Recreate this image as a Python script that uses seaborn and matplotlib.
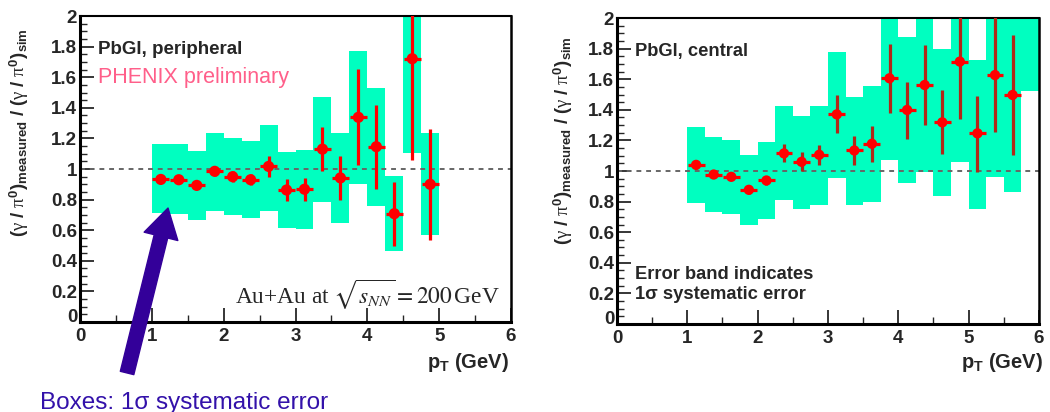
import numpy as np
import pandas as pd
import matplotlib
matplotlib.use('Agg')
import matplotlib.pyplot as plt
from matplotlib.ticker import MultipleLocator
from matplotlib.transforms import ScaledTranslation
import seaborn as sns

# --- PbGl peripheral (left panel) ---
peri_pt = [1.125, 1.375, 1.625, 1.875, 2.125, 2.375, 2.625, 2.875,
           3.125, 3.375, 3.625, 3.875, 4.125, 4.375, 4.625, 4.875]
peri_ratio = [0.932, 0.930, 0.893, 0.985, 0.950, 0.930, 1.017, 0.863,
              0.868, 1.130, 0.942, 1.338, 1.146, 0.708, 1.721, 0.900]
peri_err_lo = [0.915, 0.915, 0.875, 0.955, 0.915, 0.895, 0.947, 0.793,
               0.792, 0.988, 0.797, 1.026, 0.867, 0.499, 1.059, 0.538]
peri_err_hi = [0.950, 0.945, 0.910, 1.015, 0.985, 0.965, 1.087, 0.933,
               0.942, 1.276, 1.088, 1.654, 1.416, 0.913, 2.300, 1.263]
peri_box_lo = [0.712, 0.708, 0.669, 0.725, 0.697, 0.678, 0.725, 0.614,
               0.611, 0.785, 0.648, 0.900, 0.760, 0.466, 1.105, 0.567]
peri_box_hi = [1.161, 1.166, 1.118, 1.235, 1.203, 1.183, 1.290, 1.111,
               1.125, 1.473, 1.238, 1.773, 1.527, 0.952, 2.300, 1.233]

# --- PbGl central (right panel) ---
cent_pt = [1.125, 1.375, 1.625, 1.875, 2.125, 2.375, 2.625, 2.875, 3.125, 3.375,
           3.625, 3.875, 4.125, 4.375, 4.625, 4.875, 5.125, 5.375, 5.625]
cent_ratio = [1.040, 0.977, 0.962, 0.877, 0.938, 1.115, 1.060, 1.106, 1.370, 1.134,
              1.178, 1.606, 1.399, 1.562, 1.318, 1.715, 1.246, 1.627, 1.497]
cent_err_lo = [1.010, 0.960, 0.945, 0.850, 0.910, 1.058, 0.997, 1.036, 1.248, 1.036,
               1.058, 1.381, 1.207, 1.300, 1.111, 1.338, 0.996, 1.257, 1.105]
cent_err_hi = [1.070, 0.995, 0.980, 0.905, 0.966, 1.178, 1.121, 1.171, 1.494, 1.230,
               1.296, 1.828, 1.584, 1.824, 1.529, 2.300, 1.490, 2.300, 1.889]
cent_box_pt = [1.125, 1.375, 1.625, 1.875, 2.125, 2.375, 2.625, 2.875, 3.125, 3.375,
               3.625, 3.875, 4.125, 4.375, 4.625, 4.875, 5.125, 5.375, 5.625, 5.875]
cent_box_lo = [0.790, 0.731, 0.720, 0.646, 0.685, 0.811, 0.752, 0.781, 0.957, 0.779,
               0.796, 1.070, 0.920, 0.996, 0.837, 1.061, 0.752, 0.963, 0.865, 1.523]
cent_box_hi = [1.289, 1.219, 1.204, 1.106, 1.191, 1.422, 1.357, 1.424, 1.778, 1.483,
               1.553, 2.300, 1.874, 2.300, 1.800, 2.300, 1.725, 2.300, 2.300, 2.300]

y_tick_vals = [0, 0.2, 0.4, 0.6, 0.8, 1.0, 1.2, 1.4, 1.6, 1.8, 2.0]
y_tick_text = ['0', '0.2', '0.4', '0.6', '0.8', '1', '1.2', '1.4', '1.6', '1.8', '2']

BOX_COLOR = '#00ffc0'
BIN_W = 0.25

sns.set_style('ticks')
plt.rcParams['font.family'] = ['Liberation Sans', 'DejaVu Sans']
plt.rcParams['mathtext.fontset'] = 'custom'
plt.rcParams['mathtext.rm'] = 'Liberation Sans:bold'
plt.rcParams['mathtext.it'] = 'Liberation Serif'
plt.rcParams['mathtext.bf'] = 'Liberation Sans:bold'

fig = plt.figure(figsize=(10.5, 4.12), dpi=100)
ax_l = fig.add_axes([0.0762, 0.2184, 0.4105, 0.7427])
ax_r = fig.add_axes([0.5876, 0.2136, 0.4019, 0.7427])

ylabel = r'$(\gamma\ /\ \pi^{0})_{\mathrm{measured}}\ /\ (\gamma\ /\ \pi^{0})_{\mathrm{sim}}$'


def style_axes(ax):
    ax.set_xlim(0, 6)
    ax.set_ylim(0, 2)
    ax.xaxis.set_major_locator(MultipleLocator(1))
    ax.xaxis.set_minor_locator(MultipleLocator(0.5))
    ax.yaxis.set_minor_locator(MultipleLocator(0.05))
    ax.set_yticks(y_tick_vals)
    ax.set_yticklabels(y_tick_text)
    ax.tick_params(which='major', direction='in', length=10, width=1.3,
                   labelsize=13.5, top=False, right=False)
    ax.tick_params(axis='x', which='major', pad=4)
    ax.tick_params(axis='y', which='major', pad=2)
    ax.tick_params(which='minor', direction='in', length=5, width=1.0,
                   top=False, right=False)
    for lab in ax.get_xticklabels() + ax.get_yticklabels():
        lab.set_fontweight('bold')
    # lift the y "0" a little so it sits above the x "0", as in ROOT
    zero = ax.get_yticklabels()[0]
    zero.set_transform(zero.get_transform() + ScaledTranslation(0, 5 / 72, fig.dpi_scale_trans))
    for side in ['left', 'bottom', 'top', 'right']:
        ax.spines[side].set_visible(True)
        ax.spines[side].set_color('black')
    ax.spines['left'].set_linewidth(2.2)
    ax.spines['bottom'].set_linewidth(2.2)
    ax.spines['top'].set_linewidth(1.5)
    ax.spines['right'].set_linewidth(1.8)
    ax.axhline(1.0, color='#666666', lw=1.4, ls=(0, (2.5, 2.5)), zorder=2)
    ax.set_xlabel('')
    ax.set_ylabel('')


def draw_panel(ax, pt, ratio, err_lo, err_hi, box_pt, box_lo, box_hi, vcolor, msize):
    box_lo = np.array(box_lo)
    box_hi = np.array(box_hi)
    ax.bar(box_pt, box_hi - box_lo, bottom=box_lo, width=BIN_W,
           color=BOX_COLOR, linewidth=0, zorder=1)
    df = pd.DataFrame({'pt': pt, 'ratio': ratio})
    r = np.array(ratio)
    ax.errorbar(pt, ratio, yerr=[r - np.array(err_lo), np.array(err_hi) - r],
                fmt='none', ecolor=vcolor, elinewidth=2.3, capsize=0, zorder=3)
    ax.errorbar(pt, ratio, xerr=0.12, fmt='none', ecolor='#ff0000',
                elinewidth=2.3, capsize=0, zorder=3)
    sns.scatterplot(data=df, x='pt', y='ratio', ax=ax, color='#ff0000',
                    s=msize, edgecolor='none', zorder=4, legend=False)


draw_panel(ax_l, peri_pt, peri_ratio, peri_err_lo, peri_err_hi,
           peri_pt, peri_box_lo, peri_box_hi, '#ff0000', 65)
draw_panel(ax_r, cent_pt, cent_ratio, cent_err_lo, cent_err_hi,
           cent_box_pt, cent_box_lo, cent_box_hi, '#b02818', 55)
style_axes(ax_l)
style_axes(ax_r)

# left panel text
ax_l.text(0.042, 0.892, 'PbGl, peripheral', transform=ax_l.transAxes,
          fontsize=13.5, fontweight='bold', va='center', ha='left')
ax_l.text(0.042, 0.80, 'PHENIX preliminary', transform=ax_l.transAxes,
          fontsize=15.5, color='#ff5f8a', va='center', ha='left')
ax_l.text(0.975, 0.088, r'Au+Au at $\sqrt{s_{NN}}=200\,$GeV', transform=ax_l.transAxes,
          fontsize=16.8, family='Liberation Serif', va='center', ha='right',
          math_fontfamily='stix')
ax_l.text(-0.1415, 0.618, ylabel, transform=ax_l.transAxes, rotation=90,
          fontsize=13.5, fontweight='bold', va='center', ha='center')
ax_r.text(-0.128, 0.60, ylabel, transform=ax_r.transAxes, rotation=90,
          fontsize=13.5, fontweight='bold', va='center', ha='center')
ax_l.text(0.994, -0.131, r'p$_{\mathrm{T}}$ (GeV)', transform=ax_l.transAxes,
          fontsize=14.5, fontweight='bold', va='center', ha='right')
ax_r.text(1.01, -0.126, r'p$_{\mathrm{T}}$ (GeV)', transform=ax_r.transAxes,
          fontsize=14.5, fontweight='bold', va='center', ha='right')

# right panel text
ax_r.text(0.043, 0.889, 'PbGl, central', transform=ax_r.transAxes,
          fontsize=13.2, fontweight='bold', va='center', ha='left')
ax_r.text(0.043, 0.163, 'Error band indicates', transform=ax_r.transAxes,
          fontsize=13.2, fontweight='bold', va='center', ha='left')
ax_r.text(0.043, 0.095, '1\u03c3 systematic error', transform=ax_r.transAxes,
          fontsize=13.2, fontweight='bold', va='center', ha='left')

# arrow pointing at the boxes
ax_l.annotate('', xy=(1.225, 0.745), xytext=(0.655, -0.333),
              arrowprops=dict(width=10, headwidth=25, headlength=21, shrink=0,
                              facecolor='#330099', edgecolor='#330099'),
              annotation_clip=False, zorder=6)
fig.text(40 / 1050, 1 - 403 / 412, 'Boxes: 1\u03c3 systematic error',
         fontsize=17.5, color='#3311aa', va='center', ha='left')

fig.savefig('out.png', dpi=100)
